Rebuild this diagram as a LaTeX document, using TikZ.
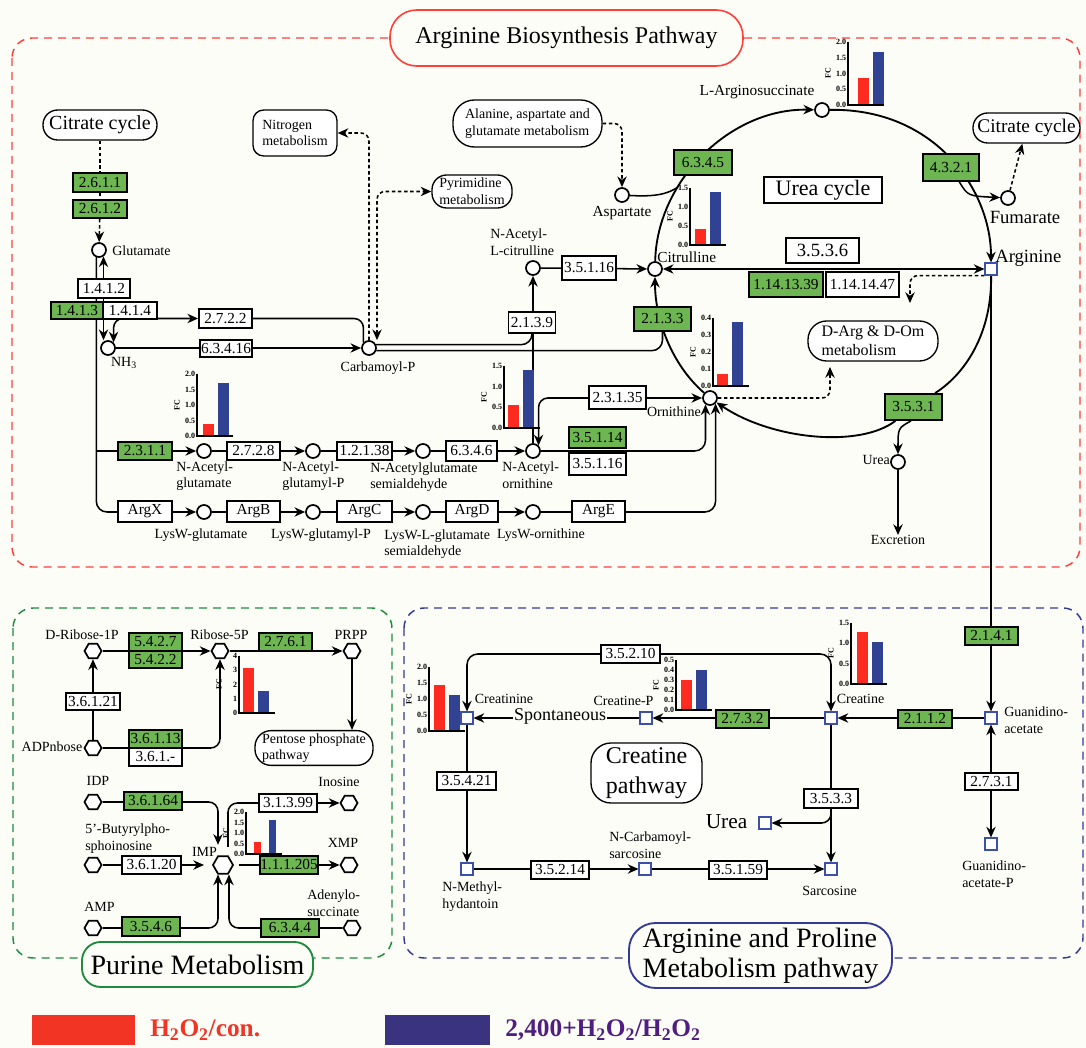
\documentclass[tikz,border=0pt]{standalone}
\usepackage{fontspec}
\setmainfont{Liberation Serif}
\usepackage{xcolor}
\usepackage{tikz}
\usetikzlibrary{shapes.geometric, arrows.meta, positioning}

\definecolor{bgcream}{RGB}{253,253,248}
\definecolor{ecgreen}{RGB}{110,182,82}
\definecolor{barred}{RGB}{255,42,32}
\definecolor{barblue}{RGB}{48,66,145}
\definecolor{boxred}{RGB}{255,64,56}
\definecolor{boxgreen}{RGB}{30,140,60}
\definecolor{boxblue}{RGB}{52,58,150}
\definecolor{sqblue}{RGB}{60,80,170}
\definecolor{legred}{RGB}{242,52,36}
\definecolor{legblue}{RGB}{58,52,128}
\definecolor{legtext}{RGB}{80,30,130}

\pgfdeclarelayer{bg}
\pgfsetlayers{bg,main}

\tikzset{wh/.style 2 args={minimum width=#1*0.75pt, minimum height=#2*0.75pt}}
\tikzstyle{ec} = [rectangle, draw=black, line width=1.4pt, fill=white, inner sep=0pt, font=\fontsize{11.5}{12}\selectfont]
\tikzstyle{gec} = [ec, fill=ecgreen]
\tikzstyle{ecb} = [ec, font=\fontsize{11.5}{12}\selectfont]
\tikzstyle{gecb} = [ecb, fill=ecgreen]
\tikzstyle{cpd} = [circle, draw=black, line width=1.3pt, fill=white, minimum size=10.5pt, inner sep=0pt]
\tikzstyle{hexa} = [regular polygon, regular polygon sides=6, draw=black, line width=1.3pt, fill=white, minimum size=12.75pt, inner sep=0pt]
\tikzstyle{sq} = [rectangle, draw=sqblue, line width=1.3pt, fill=white, minimum size=8.5pt, inner sep=0pt]
\tikzstyle{lbl} = [inner sep=0pt, align=left, font=\fontsize{10.5}{12.5}\selectfont]
\tikzstyle{mapbox} = [rectangle, rounded corners=8pt, draw=black, line width=1pt, fill=white, inner sep=2pt, align=left, font=\fontsize{10.5}{12.5}\selectfont]
\tikzstyle{link} = [line width=1.15pt]
\tikzstyle{arrow} = [link, ->, >={Stealth[length=8pt,width=7pt]}]
\tikzstyle{twoway} = [link, <->, >={Stealth[length=8pt,width=7pt]}]
\tikzstyle{dlink} = [link, dash pattern=on 2.6pt off 2pt]
\tikzstyle{ticklbl} = [inner sep=0.4pt, font=\fontsize{6}{6}\selectfont\bfseries]

% fold change bars: [bar offset]{axis x}{base y}{top y}{tick labels}{tick step}{red top}{blue top}
\newcommand{\fcbw}{11}
\newcommand{\fcchart}[8][5]{%
  \fill[barred] (#2+#1,#3) rectangle (#2+#1+\fcbw,#7);
  \fill[barblue] (#2+#1+15,#3) rectangle (#2+#1+15+\fcbw,#8);
  \draw[line width=0.8pt] (#2,#4) -- (#2,#3) -- (#2+36,#3);
  \foreach \tl [count=\ti from 0] in {#5}
    \node[ticklbl, anchor=east] (fc#2t\ti) at (#2-1,#3-\ti*#6) {\tl};
  \node[ticklbl, rotate=90] (fc#2y) at (#2-20,{(#3+#4)/2}) {FC};
}

\begin{document}
\begin{tikzpicture}[x=0.75pt, y=-0.75pt]
\useasboundingbox (0,0) rectangle (1086,1048);

% Titles
\node[draw=boxred, line width=1.2pt, rounded corners=20pt, fill=bgcream, wh={353}{56}, font=\fontsize{18}{20}\selectfont] (tabp) at (566.5,38) {Arginine Biosynthesis Pathway};
\node[draw=boxgreen, line width=1.4pt, rounded corners=14pt, fill=bgcream, wh={231}{45}, font=\fontsize{21}{23}\selectfont] (tpur) at (197.5,964.5) {Purine Metabolism};
\node[draw=boxblue, line width=1.4pt, rounded corners=20pt, fill=bgcream, wh={263}{65}, align=left, font=\fontsize{21}{22.5}\selectfont] (tapm) at (760.5,955.5) {Arginine and Proline\\Metabolism pathway};

% Nodes: arginine biosynthesis
\node[mapbox, font=\fontsize{15}{17}\selectfont, rounded corners=11pt, wh={114}{30}] (cit1) at (100,125) {Citrate cycle};
\node[gec, wh={54}{19}] (e2611) at (100,182.5) {2.6.1.1};
\node[gec, wh={54}{18}] (e2612) at (100,209) {2.6.1.2};
\node[cpd] (glu) at (99,250) {};
\node[lbl, anchor=west] (lglu) at (112,251) {Glutamate};
\node[ec, wh={52}{19}] (e1412) at (104,288.5) {1.4.1.2};
\node[gec, wh={52}{17}] (e1413) at (77,310.5) {1.4.1.3};
\node[ec, wh={54}{17}] (e1414) at (130,310.5) {1.4.1.4};
\node[cpd] (nh3) at (108,348) {};
\node[lbl] (lnh3) at (124,363) {NH\textsubscript{3}};
\node[ec, wh={53}{19}] (e2722) at (225.5,318.5) {2.7.2.2};
\node[ec, wh={52}{17}] (e63416) at (226,348.5) {6.3.4.16};
\node[cpd] (carbp) at (369,348) {};
\node[lbl] (lcarbp) at (378,368) {Carbamoyl-P};
\node[mapbox, wh={84}{46}] (nitro) at (295,133) {Nitrogen\\metabolism};
\node[mapbox, wh={80}{33}, rounded corners=11pt] (pyr) at (472,191.5) {Pyrimidine\\metabolism};
\node[mapbox, wh={149}{47}, rounded corners=16pt] (alan) at (527.5,123.5) {Alanine, aspartate and\\glutamate metabolism};
\node[cpd] (asp) at (622,195) {};
\node[lbl, font=\fontsize{11.5}{13}\selectfont] (lasp) at (622,213) {Aspartate};
\node[cpd] (nacit) at (533,268) {};
\node[lbl, anchor=west] (lnacit) at (490,242) {N-Acetyl-\\L-citrulline};
\node[ec, wh={47}{21}] (e2139) at (532,322.5) {2.1.3.9};
\node[ec, wh={54}{24}] (e35116) at (589,268) {3.5.1.16};
\node[cpd] (citr) at (655,269) {};
\node[lbl, font=\fontsize{11.5}{13}\selectfont, anchor=west] (lcitr) at (657,257) {Citrulline};
\node[gec, wh={57}{24}] (e2133) at (662.5,319) {2.1.3.3};
\node[gec, wh={58}{25}] (e6345) at (703,162.5) {6.3.4.5};
\node[cpd] (asuc) at (822,110) {};
\node[lbl, font=\fontsize{11.5}{13}\selectfont] (lasuc) at (757,92) {L-Arginosuccinate};
\node[gec, wh={56}{27}] (e4321) at (951,167.5) {4.3.2.1};
\node[cpd] (fum) at (1008,198) {};
\node[lbl, font=\fontsize{14}{16}\selectfont] (lfum) at (1025,217) {Fumarate};
\node[mapbox, font=\fontsize{14.5}{17}\selectfont, rounded corners=11pt, wh={107}{30}] (cit2) at (1026.5,128) {Citrate cycle};
\node[ec, line width=1.2pt, font=\fontsize{16.5}{18}\selectfont, wh={118}{26}] (ucyc) at (823,190) {Urea cycle};
\node[sq] (arg) at (991,269) {};
\node[lbl, font=\fontsize{14}{16}\selectfont, anchor=west] (larg) at (995,258) {Arginine};
\node[ec, font=\fontsize{14}{16}\selectfont, wh={73}{25}] (e3536) at (822.5,250.5) {3.5.3.6};
\node[gec, wh={74}{25}] (e11413) at (786,284.5) {1.14.13.39};
\node[ec, wh={73}{25}] (e11414) at (862.5,284.5) {1.14.14.47};
\node[mapbox, font=\fontsize{12}{14}\selectfont, rounded corners=14pt, wh={130}{40}] (darg) at (873,341) {D-Arg \& D-Om\\metabolism};
\node[cpd] (orn) at (710,398) {};
\node[lbl, anchor=east] (lorn) at (701,412) {Ornithine};
\node[ec, wh={57}{23}] (e23135) at (617.5,397.5) {2.3.1.35};
\node[gec, wh={57}{26}] (e3531) at (913.5,407) {3.5.3.1};
\node[cpd] (urea) at (898,462) {};
\node[lbl, anchor=east] (lurea) at (890,460) {Urea};
\node[lbl] (excr) at (898,540) {Excretion};

% acetyl route
\node[gec, wh={54}{18}] (e2311) at (145,451) {2.3.1.1};
\node[cpd] (nag) at (204,451) {};
\node[ec, wh={53}{18}] (e2728) at (253.5,451) {2.7.2.8};
\node[cpd] (nagp) at (313,451) {};
\node[ec, wh={55}{18}] (e12138) at (364.5,451) {1.2.1.38};
\node[cpd] (nags) at (423,451) {};
\node[ec, wh={51}{20}] (e6346) at (471.5,451) {6.3.4.6};
\node[cpd] (nao) at (533,451) {};
\node[gec, wh={57}{21}] (e35114) at (597.5,437.5) {3.5.1.14};
\node[ec, wh={57}{22}] (e35116b) at (597.5,464) {3.5.1.16};
\node[lbl, anchor=west] (lnag) at (176,476) {N-Acetyl-\\glutamate};
\node[lbl, anchor=west] (lnagp) at (282,476) {N-Acetyl-\\glutamyl-P};
\node[lbl, anchor=west] (lnags) at (370,477) {N-Acetylglutamate\\semialdehyde};
\node[lbl, anchor=west] (lnao) at (502,475) {N-Acetyl-\\ornithine};

% LysW route
\node[ec, wh={54}{21}] (argx) at (145,511.5) {ArgX};
\node[cpd] (lwg) at (204,512) {};
\node[ec, wh={53}{21}] (argb) at (253.5,511.5) {ArgB};
\node[cpd] (lwgp) at (313,512) {};
\node[ec, wh={55}{21}] (argc) at (364.5,511.5) {ArgC};
\node[cpd] (lwgs) at (423,512) {};
\node[ec, wh={52}{21}] (argd) at (472,511.5) {ArgD};
\node[cpd] (lwo) at (533,512) {};
\node[ec, wh={53}{21}] (arge) at (598.5,511.5) {ArgE};
\node[lbl] (llwg) at (201,535) {LysW-glutamate};
\node[lbl] (llwgp) at (321,535) {LysW-glutamyl-P};
\node[lbl, anchor=west] (llwgs) at (384,544) {LysW-L-glutamate\\semialdehyde};
\node[lbl] (llwo) at (541,535) {LysW-ornithine};

% Nodes: purine metabolism
\node[hexa] (dr1p) at (93,651) {};
\node[lbl] (ldr1p) at (82,635) {D-Ribose-1P};
\node[gecb, wh={53}{18}] (e5427) at (155.5,642) {5.4.2.7};
\node[gecb, wh={53}{17}] (e5422) at (155.5,659.5) {5.4.2.2};
\node[hexa] (r5p) at (220,651) {};
\node[lbl] (lr5p) at (219.5,635) {Ribose-5P};
\node[gecb, wh={53}{18}] (e2761) at (285.5,642) {2.7.6.1};
\node[hexa] (prpp) at (352,651) {};
\node[lbl] (lprpp) at (351,635) {PRPP};
\node[mapbox, wh={118}{32}, rounded corners=12pt] (ppp) at (314,748) {Pentose phosphate\\pathway};
\node[hexa] (adpr) at (93,748) {};
\node[lbl] (ladpr) at (52,747) {ADPnbose};
\node[ecb, wh={54}{17}] (e36121) at (93,701.5) {3.6.1.21};
\node[gecb, wh={53}{18}] (e36113) at (155.5,739) {3.6.1.13};
\node[ecb, wh={53}{18}] (e3612) at (155.5,757) {3.6.1.-};
\node[hexa] (idp) at (93,802) {};
\node[lbl] (lidp) at (98,781) {IDP};
\node[gecb, wh={58}{18}] (e36164) at (153,801) {3.6.1.64};
\node[hexa] (butyr) at (93,865) {};
\node[lbl, anchor=west] (lbutyr) at (85,838.5) {5’-Butyrylpho-\\sphoinosine};
\node[ecb, wh={59}{18}] (e36120) at (151.5,865) {3.6.1.20};
\node[hexa, minimum size=15pt] (imp) at (223,865) {};
\node[lbl] (limp) at (204.5,852) {IMP};
\node[gecb, wh={58}{18}] (e111205) at (289,865) {1.1.1.205};
\node[hexa] (xmp) at (349,865) {};
\node[lbl] (lxmp) at (343,843) {XMP};
\node[ecb, wh={58}{18}] (e31399) at (288,803) {3.1.3.99};
\node[hexa] (ino) at (349,803) {};
\node[lbl] (lino) at (339,782) {Inosine};
\node[hexa] (amp) at (93,928) {};
\node[lbl] (lamp) at (99.5,907) {AMP};
\node[gecb, wh={58}{19}] (e3546) at (151,926.5) {3.5.4.6};
\node[hexa] (adsu) at (352,928) {};
\node[lbl, anchor=west] (ladsu) at (307,903) {Adenylo-\\succinate};
\node[gecb, wh={58}{18}] (e6344) at (290,928) {6.3.4.4};

% Nodes: arginine and proline metabolism
\node[sq] (crtn) at (467,718) {};
\node[lbl] (lcrtn) at (504,699) {Creatinine};
\node[sq] (crtp) at (646,718) {};
\node[lbl] (lcrtp) at (623.5,701) {Creatine-P};
\node[sq] (crt) at (831,718) {};
\node[lbl] (lcrt) at (860.5,699) {Creatine};
\node[sq] (gaa) at (991,718) {};
\node[lbl, anchor=west] (lgaa) at (1004,720.5) {Guanidino-\\acetate};
\node[sq] (gaap) at (991,844) {};
\node[lbl, anchor=west] (lgaap) at (962,874) {Guanidino-\\acetate-P};
\node[sq] (nmh) at (467,869) {};
\node[lbl, anchor=west] (lnmh) at (442,896.5) {N-Methyl-\\hydantoin};
\node[sq] (ncs) at (645,869) {};
\node[lbl, anchor=west] (lncs) at (609,845) {N-Carbamoyl-\\sarcosine};
\node[sq] (sarc) at (831,869) {};
\node[lbl] (lsarc) at (829.5,891) {Sarcosine};
\node[sq] (urea2) at (765,823) {};
\node[lbl, font=\fontsize{16}{18}\selectfont] (lurea2) at (726.5,822) {Urea};
\node[lbl, font=\fontsize{13.5}{15}\selectfont, fill=bgcream, inner sep=0.5pt] (spon) at (560,716) {Spontaneous};
\node[ecb, wh={59}{18}] (e35210) at (630.5,654) {3.5.2.10};
\node[gecb, wh={53}{18}] (e2732) at (742.5,719) {2.7.3.2};
\node[gecb, wh={54}{18}] (e2112) at (925,719) {2.1.1.2};
\node[gecb, wh={53}{18}] (e2141) at (991.5,636) {2.1.4.1};
\node[ecb, wh={53}{17}] (e2731) at (991.5,781.5) {2.7.3.1};
\node[ecb, wh={59}{18}] (e35421) at (466.5,781) {3.5.4.21};
\node[ecb, wh={58}{18}] (e35214) at (560,870) {3.5.2.14};
\node[ecb, wh={58}{18}] (e35159) at (738,870) {3.5.1.59};
\node[ecb, wh={54}{19}] (e3533) at (831,798.5) {3.5.3.3};
\node[mapbox, wh={111}{60}, rounded corners=15pt, align=center, font=\fontsize{18}{22.5}\selectfont] (crpw) at (646.5,773) {Creatine\\pathway};

% Legend
\node[fill=legred, wh={103}{30}, inner sep=0pt] (legr) at (83.5,1030) {};
\node[anchor=west, text=legred, inner sep=0pt, font=\fontsize{19}{21}\selectfont\bfseries] (legrt) at (150,1030) {H\textsubscript{2}O\textsubscript{2}/con.};
\node[fill=legblue, wh={105}{30}, inner sep=0pt] (legb) at (437.5,1030) {};
\node[anchor=west, text=legtext, inner sep=0pt, font=\fontsize{19}{21}\selectfont\bfseries] (legbt) at (505,1030) {2,400+H\textsubscript{2}O\textsubscript{2}/H\textsubscript{2}O\textsubscript{2}};

% Charts
\fcchart[10]{848}{105}{42}{0.0,0.5,1.0,1.5,2.0}{15.75}{78}{52}
\fcchart{690}{245}{188}{0.0,0.5,1.0,1.5}{19}{229}{192}
\fcchart[4]{713}{386}{318}{0.0,0.1,0.2,0.3,0.4}{17}{374}{322}
\fcchart[4]{504}{428}{366}{0.0,0.5,1.0,1.5}{20.67}{405}{370}
\fcchart[6]{197}{436}{374}{0.0,0.5,1.0,1.5,2.0}{15.5}{424}{383}
\fcchart[4]{239}{713}{656}{0,1,2,3,4}{14.25}{668}{691}
\begin{scope}
\renewcommand{\fcbw}{7}
\fcchart[8]{246}{854}{812}{0.0,0.5,1.0,1.5,2.0}{10.5}{842}{820}
\end{scope}
\fcchart{429}{731}{667}{0.0,0.5,1.0,1.5,2.0}{16}{685}{695}
\fcchart{676}{710}{660}{0.0,0.1,0.2,0.3,0.4,0.5}{10}{680}{670}
\fcchart[6]{851}{684}{623}{0.0,0.5,1.0,1.5}{20.33}{632}{642}

% Arrows
\begin{pgfonlayer}{bg}
\fill[bgcream] (0,0) rectangle (1086,1048);
\draw[boxred, line width=1.1pt, dash pattern=on 6pt off 4.5pt, rounded corners=15pt] (12,38) rectangle (1080,567);
\draw[boxgreen, line width=1.1pt, dash pattern=on 6pt off 4.5pt, rounded corners=15pt] (13,608) rectangle (392,958);
\draw[boxblue, line width=1.1pt, dash pattern=on 6pt off 4.5pt, rounded corners=15pt] (404,608) rectangle (1083,958);

\draw[dlink] (cit1) -- (e2611);
\draw[dlink] (e2611) -- (e2612);
\draw[dlink, arrow] (e2612) -- (glu);
\draw[arrow] (glu.-110) |- (nag);
\draw[arrow, rounded corners=8pt] (glu.-110) |- (lwg);
\draw[twoway] (glu.-55) -- (glu.-55 |- nh3.north);
\draw[twoway, rounded corners=7pt] (carbp.north west) |- (e2722) -| (nh3.north east);
\draw[arrow] (nh3) -- (carbp);
\draw[dlink, arrow, rounded corners=6pt] (carbp.north) |- (nitro.east);
\draw[dlink, twoway, rounded corners=6pt] ([xshift=6pt]carbp.north) |- (pyr.west);
\draw[link, rounded corners=8pt] (carbp.25) -| (e2139.south);
\draw[link, rounded corners=8pt] (carbp.-20) -| (e2133.south);

\draw[arrow] (nag) -- (nagp);
\draw[arrow] (nagp) -- (nags);
\draw[arrow] (nags) -- (nao);
\draw[arrow] (lwg) -- (lwgp);
\draw[arrow] (lwgp) -- (lwgs);
\draw[arrow] (lwgs) -- (lwo);
\draw[arrow] (nao) -- (nacit);
\draw[arrow] (nacit) -- (citr);
\draw[twoway, rounded corners=7pt] (nao.45) |- (orn);
\draw[arrow, rounded corners=8pt] (nao) -| (orn.-125);
\draw[arrow, rounded corners=8pt] (lwo) -| (orn.-45);

% urea cycle
\draw[arrow, line width=1.4pt] (citr) .. controls (657,180) and (731,108) .. (asuc);
\coordinate (jasp) at (678,187);
\draw[link] (asp) .. controls (655,197) and (668,194) .. (jasp);
\draw[dlink, arrow, rounded corners=6pt] (alan.east) -| (asp);
\draw[arrow, line width=1.4pt] (asuc) .. controls (935,108) and (991,190) .. (arg);
\draw[arrow] (e4321.-60) .. controls (968,196) .. (fum);
\draw[dlink, arrow] (fum) -- (cit2);
\draw[twoway] (citr) -- (arg);
\coordinate (dargin) at (910,303);
\draw[dlink, arrow, rounded corners=6pt] (arg.south west) -| (dargin);
\coordinate (dargin2) at (830,367);
\draw[dlink, arrow, rounded corners=6pt] (orn) -| (dargin2);
\draw[link, line width=1.4pt] (arg) .. controls (992,330) and (968,372) .. (e3531);
\draw[arrow, line width=1.4pt] (e3531) .. controls (860,448) and (772,440) .. (orn);
\draw[arrow] (e3531.-100) .. controls (898,428) .. (urea);
\draw[arrow] (urea) -- (excr);
\draw[arrow, line width=1.4pt] (orn) .. controls (672,365) and (655,320) .. (citr);
\draw[arrow] (arg) -- (gaa);

% purine
\draw[arrow] (dr1p) -- (r5p);
\draw[arrow] (r5p) -- (prpp);
\draw[arrow] (prpp) -- (prpp |- ppp.north);
\draw[arrow] (adpr) -- (dr1p);
\draw[arrow, rounded corners=7pt] (adpr) -| (r5p);
\draw[arrow, rounded corners=7pt] (idp) -| ([xshift=-3.75pt, yshift=8pt]imp.north);
\draw[arrow] (butyr) -- ([xshift=-6pt]imp.west);
\draw[arrow] ([xshift=3.75pt]imp.east) -- (xmp);
\draw[arrow, rounded corners=7pt] ([xshift=3.75pt, yshift=6.5pt]imp.north) |- (ino);
\draw[arrow, rounded corners=7pt] (amp) -| ([xshift=-3.75pt]imp.south);
\draw[arrow, rounded corners=7pt] (adsu) -| ([xshift=4.5pt]imp.south);

% creatine
\draw[arrow] (crtp) -- (crtn);
\draw[arrow] (crt) -- (crtp);
\draw[arrow] (gaa) -- (crt);
\draw[twoway, rounded corners=8pt] (crtn) |- (e35210.center) -| (crt);
\draw[arrow] (crtn) -- (nmh);
\draw[arrow] (nmh) -- (ncs);
\draw[arrow] (ncs) -- (sarc);
\draw[arrow] (crt) -- (sarc);
\draw[arrow, rounded corners=7pt] (e3533) |- (urea2);
\draw[twoway] (gaa) -- (gaap);
\end{pgfonlayer}

\end{tikzpicture}
\end{document}
